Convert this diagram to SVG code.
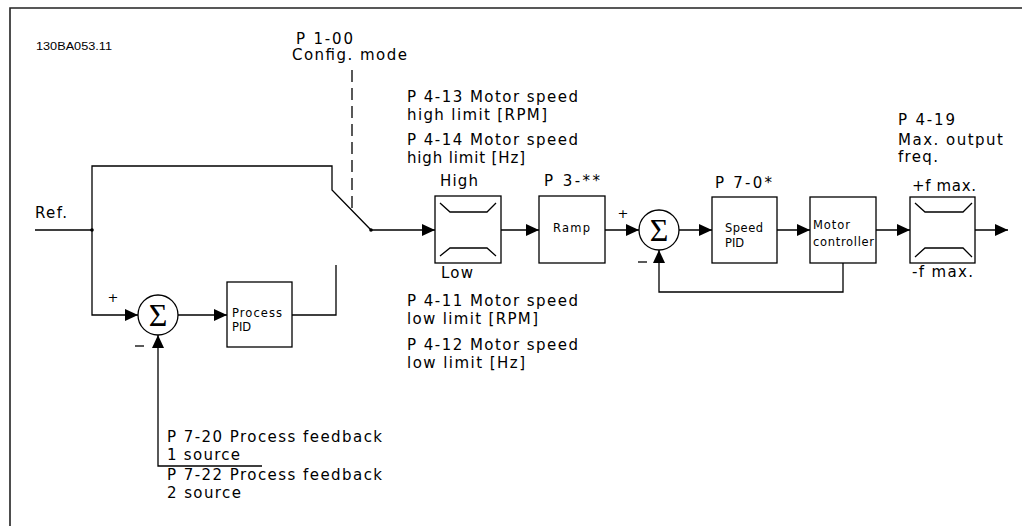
<svg xmlns="http://www.w3.org/2000/svg" width="1022" height="526" viewBox="0 0 1022 526">
<defs>
<marker id="arr" viewBox="0 0 13 12" refX="13" refY="6" markerWidth="13" markerHeight="12" markerUnits="userSpaceOnUse" orient="auto">
<path d="M0,0 L13,6 L0,12 z" fill="#000"/>
</marker>
<style>
.ln{fill:none;stroke:#000;stroke-width:1.3}
.bx{fill:#fff;stroke:#000;stroke-width:1.3}
.t{font-family:"DejaVu Sans",Verdana,sans-serif;font-size:15px;fill:#000}
.s{font-family:"DejaVu Sans",Verdana,sans-serif;font-size:11.5px;fill:#000}
.sig{font-family:"Liberation Serif","DejaVu Serif",serif;font-size:32px;fill:#000}
.pm{font-family:"DejaVu Sans",sans-serif;font-size:13px;fill:#000}
</style>
</defs>
<rect width="1022" height="526" fill="#fff"/>
<path d="M10,527 V8 H1023" fill="none" stroke="#222" stroke-width="1.6"/>
<text x="36" y="50" font-family="Liberation Sans,Arial,sans-serif" font-size="11.5" textLength="76" lengthAdjust="spacingAndGlyphs">130BA053.11</text>

<g id="labels">
<text class="t" x="296" y="44" textLength="57" lengthAdjust="spacing">P 1-00</text>
<text class="t" x="292" y="60" textLength="115" lengthAdjust="spacing">Config. mode</text>
<text class="t" x="35" y="218" textLength="32" lengthAdjust="spacing">Ref.</text>
<text class="t" x="407" y="102" textLength="171" lengthAdjust="spacing">P 4-13 Motor speed</text>
<text class="t" x="407" y="120" textLength="140" lengthAdjust="spacing">high limit [RPM]</text>
<text class="t" x="407" y="145" textLength="171" lengthAdjust="spacing">P 4-14 Motor speed</text>
<text class="t" x="407" y="163" textLength="118" lengthAdjust="spacing">high limit [Hz]</text>
<text class="t" x="407" y="306" textLength="171" lengthAdjust="spacing">P 4-11 Motor speed</text>
<text class="t" x="407" y="324" textLength="131" lengthAdjust="spacing">low limit [RPM]</text>
<text class="t" x="407" y="350" textLength="171" lengthAdjust="spacing">P 4-12 Motor speed</text>
<text class="t" x="407" y="368" textLength="118" lengthAdjust="spacing">low limit [Hz]</text>
<text class="t" x="440" y="186" textLength="38" lengthAdjust="spacing">High</text>
<text class="t" x="441" y="278" textLength="32" lengthAdjust="spacing">Low</text>
<text class="t" x="544" y="186" textLength="56" lengthAdjust="spacing">P 3-**</text>
<text class="t" x="715" y="188" textLength="57" lengthAdjust="spacing">P 7-0*</text>
<text class="t" x="898" y="125" textLength="57" lengthAdjust="spacing">P 4-19</text>
<text class="t" x="898" y="145" textLength="105" lengthAdjust="spacing">Max. output</text>
<text class="t" x="898" y="162" textLength="40" lengthAdjust="spacing">freq.</text>
<text class="t" x="912" y="191" textLength="64" lengthAdjust="spacing">+f max.</text>
<text class="t" x="912" y="277" textLength="61" lengthAdjust="spacing">-f max.</text>
<text class="t" x="167" y="442" textLength="215" lengthAdjust="spacing">P 7-20 Process feedback</text>
<text class="t" x="167" y="460" textLength="73" lengthAdjust="spacing">1 source</text>
<text class="t" x="167" y="480" textLength="215" lengthAdjust="spacing">P 7-22 Process feedback</text>
<text class="t" x="167" y="498" textLength="74" lengthAdjust="spacing">2 source</text>
<text class="pm" x="113" y="302" text-anchor="middle">+</text>
<text class="pm" x="623" y="218" text-anchor="middle">+</text>
<line x1="135" y1="346" x2="144" y2="346" stroke="#000" stroke-width="1.3"/>
<line x1="638" y1="262" x2="647" y2="262" stroke="#000" stroke-width="1.3"/>
</g>

<g id="connectors">
<path class="ln" d="M35,230 H92 V166 H332 V190 L371,230"/>
<path class="ln" d="M92,230 V315 H138" marker-end="url(#arr)"/>
<path class="ln" d="M178,315 H227" marker-end="url(#arr)"/>
<path class="ln" d="M292,315 H336 V265"/>
<path class="ln" d="M262,466 H158 V335" marker-end="url(#arr)"/>
<path class="ln" d="M352,70 V208" stroke-dasharray="12,6"/>
<path class="ln" d="M371,230 H435" marker-end="url(#arr)"/>
<path class="ln" d="M501,230 H539" marker-end="url(#arr)"/>
<path class="ln" d="M605,230 H639" marker-end="url(#arr)"/>
<path class="ln" d="M679,230 H712" marker-end="url(#arr)"/>
<path class="ln" d="M777,230 H810" marker-end="url(#arr)"/>
<path class="ln" d="M843,263 V292 H659 V250" marker-end="url(#arr)"/>
<path class="ln" d="M876,230 H910" marker-end="url(#arr)"/>
<path class="ln" d="M975,230 H1008" marker-end="url(#arr)"/>
<circle cx="92" cy="230" r="1.8" fill="#000"/>
<circle cx="371" cy="230" r="1.8" fill="#000"/>
</g>

<g id="sum1">
<circle class="bx" cx="158" cy="315" r="20"/>
<text class="sig" x="158" y="326" text-anchor="middle">Σ</text>
</g>
<g id="process-pid">
<rect class="bx" x="227" y="282" width="65" height="65"/>
<text class="s" x="232" y="317" textLength="50" lengthAdjust="spacing">Process</text>
<text class="s" x="232" y="331">PID</text>
</g>
<g id="speed-limit">
<rect class="bx" x="435" y="196" width="66" height="67"/>
<path class="ln" d="M440,203 L450,212 H487 L496,203 M440,256 L450,248 H487 L496,256"/>
</g>
<g id="ramp">
<rect class="bx" x="539" y="196" width="66" height="67"/>
<text class="s" x="553" y="232" textLength="37" lengthAdjust="spacing">Ramp</text>
</g>
<g id="sum2">
<circle class="bx" cx="659" cy="230" r="20"/>
<text class="sig" x="659" y="241" text-anchor="middle">Σ</text>
</g>
<g id="speed-pid">
<rect class="bx" x="712" y="197" width="65" height="66"/>
<text class="s" x="725" y="232" textLength="38" lengthAdjust="spacing">Speed</text>
<text class="s" x="725" y="247">PID</text>
</g>
<g id="motor-controller">
<rect class="bx" x="810" y="197" width="66" height="66"/>
<text class="s" x="813" y="229" textLength="37" lengthAdjust="spacing">Motor</text>
<text class="s" x="813" y="246" textLength="61" lengthAdjust="spacing">controller</text>
</g>
<g id="output-limit">
<rect class="bx" x="910" y="197" width="65" height="66"/>
<path class="ln" d="M915,203 L925,212 H963 L972,203 M915,257 L925,248 H963 L972,257"/>
</g>
</svg>
